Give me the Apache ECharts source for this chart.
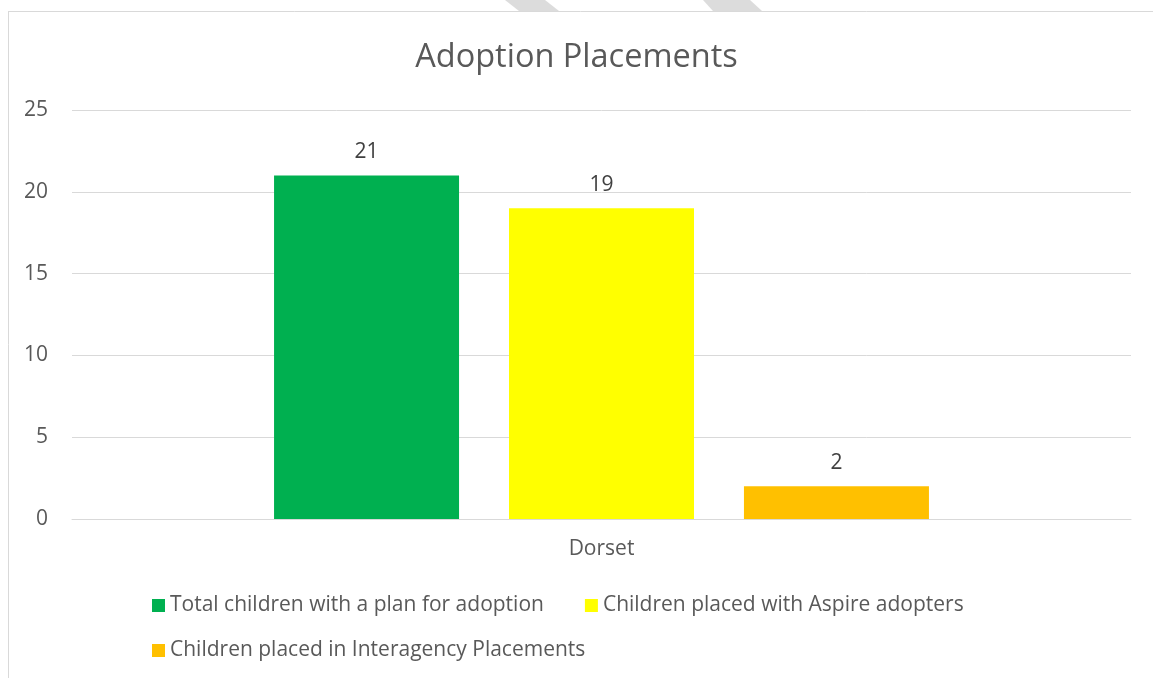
<!DOCTYPE html>
<html>
<head>
<meta charset="utf-8">
<title>Adoption Placements</title>
<script src="https://cdn.jsdelivr.net/npm/echarts@6/dist/echarts.min.js"></script>
<style>
  html, body { margin: 0; padding: 0; background: #fff; }
  #chart { width: 1153px; height: 678px; }
</style>
</head>
<body>
<div id="chart"></div>
<script>
// data
var categories = ['Dorset'];
var seriesNames = [
  'Total children with a plan for adoption',
  'Children placed with Aspire adopters',
  'Children placed in Interagency Placements'
];
var totalPlan = [21];
var aspire = [19];
var interagency = [2];
var colors = ['#00b050', '#ffff00', '#ffc000'];

var fontFam = '"Open Sans", "Liberation Sans", sans-serif';

var myChart = echarts.init(document.getElementById('chart'));

function makeSeries(name, data, color) {
  return {
    name: name,
    type: 'bar',
    data: data,
    barWidth: 185,
    barGap: '27%',
    itemStyle: { color: color },
    label: {
      show: true,
      position: 'top',
      distance: 13,
      color: '#404040',
      fontSize: 21,
      fontFamily: fontFam
    }
  };
}

var option = {
  backgroundColor: '#fff',
  animation: false,
  title: {
    text: 'Adoption Placements',
    left: 'center',
    top: 36,
    textStyle: {
      color: '#595959',
      fontSize: 32.5,
      fontWeight: 'normal',
      fontFamily: fontFam
    }
  },
  // two legends so the rows sit like the original
  legend: [{
    data: [seriesNames[0], seriesNames[1]],
    left: 152,
    top: 595,
    padding: 0,
    itemWidth: 13,
    itemHeight: 13,
    itemGap: 41,
    icon: 'rect',
    textStyle: { color: '#595959', fontSize: 21, fontFamily: fontFam }
  }, {
    data: [seriesNames[2]],
    left: 152,
    top: 640,
    padding: 0,
    itemWidth: 13,
    itemHeight: 13,
    icon: 'rect',
    textStyle: { color: '#595959', fontSize: 21, fontFamily: fontFam }
  }],
  grid: {
    left: 72,
    right: 22,
    top: 110,
    bottom: 159,
    containLabel: false
  },
  xAxis: {
    type: 'category',
    data: categories,
    axisTick: { show: false },
    axisLine: { lineStyle: { color: '#d9d9d9', width: 1 } },
    axisLabel: { color: '#595959', fontSize: 21, margin: 20, fontFamily: fontFam }
  },
  yAxis: {
    type: 'value',
    min: 0,
    max: 25,
    interval: 5,
    axisLine: { show: false },
    axisTick: { show: false },
    splitLine: { lineStyle: { color: '#d9d9d9', width: 1 } },
    axisLabel: { color: '#595959', fontSize: 21, margin: 24, fontFamily: fontFam }
  },
  graphic: [
    // chart frame (left and top edges visible)
    { type: 'line', shape: { x1: 8, y1: 11.5, x2: 1153, y2: 11.5 }, style: { stroke: '#d9d9d9', lineWidth: 1 } },
    { type: 'line', shape: { x1: 8.5, y1: 11, x2: 8.5, y2: 678 }, style: { stroke: '#d9d9d9', lineWidth: 1 } },
    // watermark fragments peeking above the frame
    { type: 'polygon', shape: { points: [[505, 0], [545, 0], [559, 11], [519, 11]] }, style: { fill: '#dcdcdc' } },
    { type: 'polygon', shape: { points: [[703, 0], [750, 0], [762, 11], [713, 11]] }, style: { fill: '#dcdcdc' } }
  ],
  series: [
    makeSeries(seriesNames[0], totalPlan, colors[0]),
    makeSeries(seriesNames[1], aspire, colors[1]),
    makeSeries(seriesNames[2], interagency, colors[2])
  ]
};
myChart.setOption(option);
</script>
</body>
</html>
